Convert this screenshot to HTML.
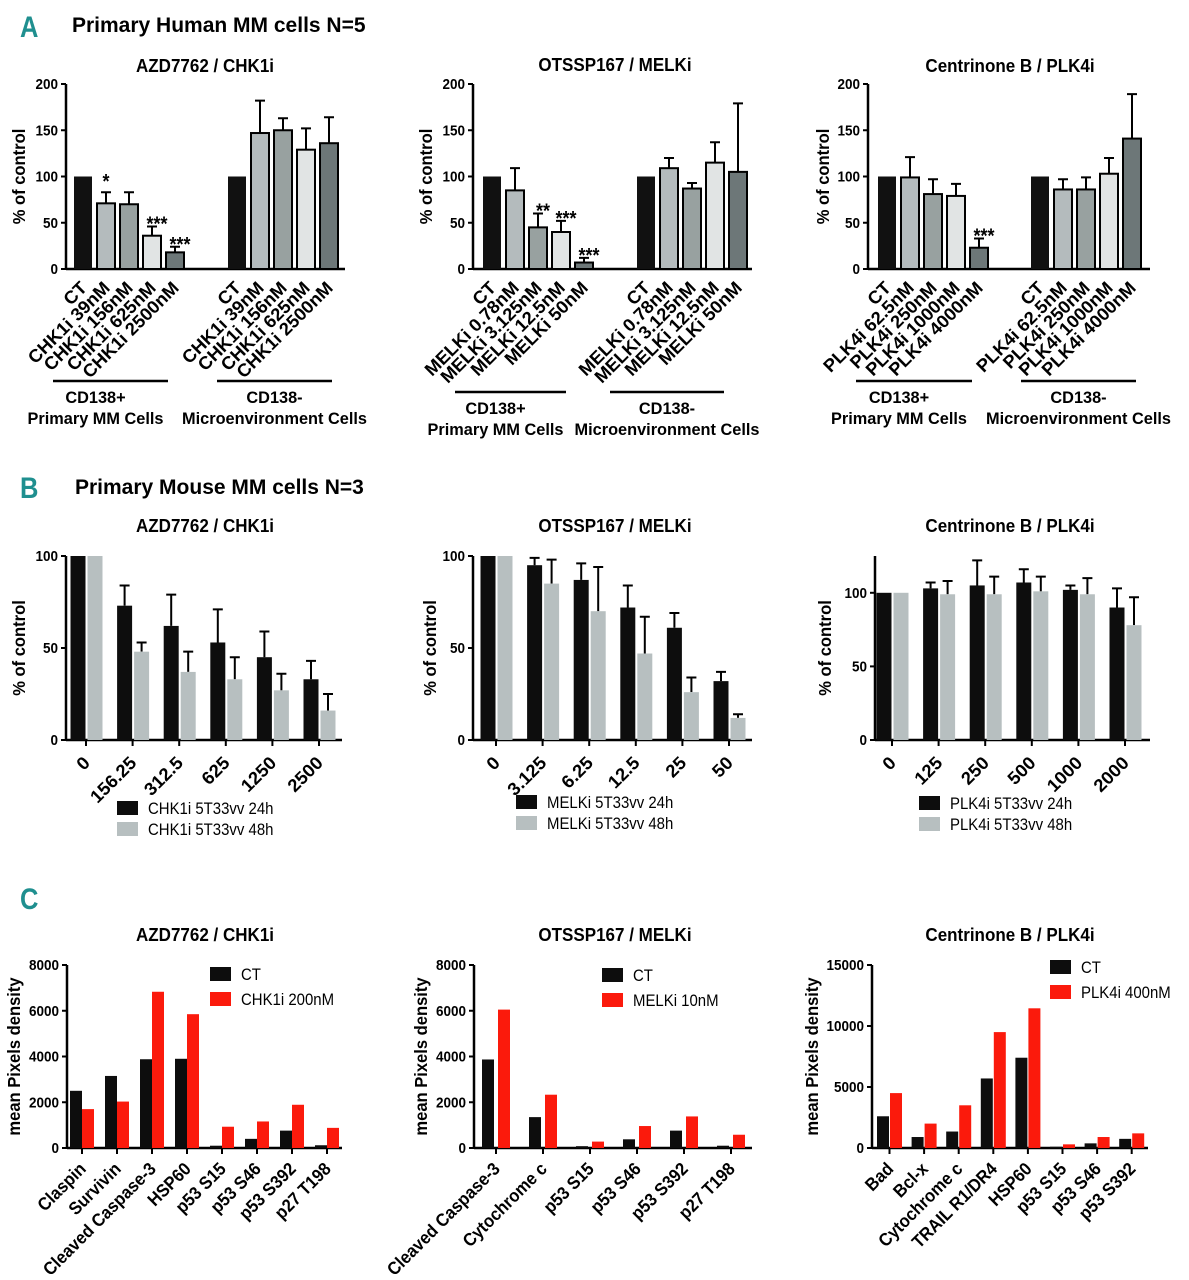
<!DOCTYPE html>
<html><head><meta charset="utf-8"><style>
html,body{margin:0;padding:0;background:#fff}
svg{display:block}
text{font-family:"Liberation Sans",Arial,sans-serif}
</style></head><body>
<svg id="fig" width="1189" height="1280" viewBox="0 0 1189 1280" xmlns="http://www.w3.org/2000/svg">
<g>
<text transform="translate(20 37) scale(0.85 1)" font-size="30" font-weight="bold" fill="#1f8f8f">A</text>
<text transform="translate(72 32) scale(1 1)" font-size="21" font-weight="bold">Primary Human MM cells N=5</text>
</g>
<g>
<text transform="translate(20 498) scale(0.85 1)" font-size="30" font-weight="bold" fill="#1f8f8f">B</text>
<text transform="translate(75 494) scale(1 1)" font-size="21" font-weight="bold">Primary Mouse MM cells N=3</text>
</g>
<g>
<text transform="translate(20 909) scale(0.85 1)" font-size="30" font-weight="bold" fill="#1f8f8f">C</text>
</g>
</svg>
<script>
// ---------- Panel A data ----------
const a1Labels = ["CT","CHK1i 39nM","CHK1i 156nM","CHK1i 625nM","CHK1i 2500nM"];
const a1Pos = [100,71,70,36,18];
const a1PosErr = [0,12,13,10,6];
const a1Neg = [100,147,150,129,136];
const a1NegErr = [0,35,13,23,28];
const a1Stars = ["","*","","***","***"];
const a2Labels = ["CT","MELKi 0.78nM","MELKi 3.125nM","MELKi 12.5nM","MELKi 50nM"];
const a2Pos = [100,85,45,40,7];
const a2PosErr = [0,24,15,12,5];
const a2Neg = [100,109,87,115,105];
const a2NegErr = [0,11,6,22,74];
const a2Stars = ["","","**","***","***"];
const a3Labels = ["CT","PLK4i 62.5nM","PLK4i 250nM","PLK4i 1000nM","PLK4i 4000nM"];
const a3Pos = [100,99,81,79,23];
const a3PosErr = [0,22,16,13,10];
const a3Neg = [100,86,86,103,141];
const a3NegErr = [0,11,13,17,48];
const a3Stars = ["","","","","***"];
const aTicks = [0,50,100,150,200];
// ---------- Panel B data ----------
const b1Cats = ["0","156.25","312.5","625","1250","2500"];
const b1H24 = [100,73,62,53,45,33];
const b1E24 = [0,11,17,18,14,10];
const b1H48 = [100,48,37,33,27,16];
const b1E48 = [0,5,11,12,9,9];
const b2Cats = ["0","3.125","6.25","12.5","25","50"];
const b2H24 = [100,95,87,72,61,32];
const b2E24 = [0,4,9,12,8,5];
const b2H48 = [100,85,70,47,26,12];
const b2E48 = [0,13,24,20,8,2];
const b3Cats = ["0","125","250","500","1000","2000"];
const b3H24 = [100,103,105,107,102,90];
const b3E24 = [0,4,17,9,3,13];
const b3H48 = [100,99,99,101,99,78];
const b3E48 = [0,9,12,10,11,19];
const bTicks = [0,50,100];
// ---------- Panel C data ----------
const c1Cats = ["Claspin","Survivin","Cleaved Caspase-3","HSP60","p53 S15","p53 S46","p53 S392","p27 T198"];
const c1CT = [2500,3150,3880,3900,100,400,760,120];
const c1Tx = [1700,2030,6830,5850,930,1160,1890,880];
const c2Cats = ["Cleaved Caspase-3","Cytochrome c","p53 S15","p53 S46","p53 S392","p27 T198"];
const c2CT = [3870,1350,80,380,760,100];
const c2Tx = [6050,2330,280,960,1380,580];
const c3Cats = ["Bad","Bcl-x","Cytochrome c","TRAIL R1/DR4","HSP60","p53 S15","p53 S46","p53 S392"];
const c3CT = [2600,900,1350,5700,7400,100,380,750];
const c3Tx = [4500,2000,3500,9500,11450,300,900,1200];
const c12Ticks = [0,2000,4000,6000,8000];
const c3Ticks = [0,5000,10000,15000];

const NS="http://www.w3.org/2000/svg";
const svg=document.getElementById('fig');
function mk(tag,attrs,parent,txt){const e=document.createElementNS(NS,tag);for(const k in attrs)e.setAttribute(k,attrs[k]);if(txt!==undefined)e.textContent=txt;(parent||svg).appendChild(e);return e;}
function txt(g,x,y,s,fs,anchor,sx,rot,bold){
  return mk('text',{transform:`translate(${x} ${y}) rotate(${rot||0}) scale(${sx} 1)`,'font-size':fs,'font-weight':bold===false?'normal':'bold','text-anchor':anchor},g,s);
}

function axes(g,o){
  const ys=v=>o.y0-(v/o.max)*(o.y0-o.yTop);
  const t=txt(g,o.titleX,o.titleY,o.title,18.5,'middle',0.92);
  
  
  const ax=mk('line',{x1:o.x0,y1:o.y0,x2:o.x1,y2:o.y0,stroke:'#000','stroke-width':2.5},g);
  
  
  const ay=mk('line',{x1:o.x0,y1:o.y0+1,x2:o.x0,y2:ys(o.topVal!==undefined?o.topVal:o.ticks[o.ticks.length-1]),stroke:'#000','stroke-width':2.5},g);
  
  
  o.ticks.forEach(v=>{
    const y=ys(v);
    mk('line',{x1:o.x0-5,y1:y,x2:o.x0,y2:y,stroke:'#000','stroke-width':2},g);
    const tl=txt(g,o.x0-8,y+5,String(v),15,'end',0.9);
    
    
  });
  const yt=txt(g,o.ytx,(o.y0+o.yTop)/2,o.ytitle,18,'middle',0.92,-90);
  
  
  return ys;
}
function catLabel(g,cx,y,s,fs,sx){
  const t=txt(g,cx+5,y,s,fs,'end',sx||1,-45);
  
  
}
function errBar(g,cx,yTop,yEnd){
  const e=mk('path',{d:`M${cx} ${yTop}V${yEnd}M${cx-5} ${yEnd}H${cx+5}`,stroke:'#000','stroke-width':2,fill:'none'},g);
  
  
}

const aColors=['#111','#b4bbbd','#98a1a0','#e1e4e4','#6d7778'];
function chartA(o,labels,pos,posErr,neg,negErr,stars){
  const g=mk('g',{});
  
  
  const ys=axes(g,Object.assign({max:200,ticks:aTicks,ytitle:'% of control'},o));
  const bw=18,step=23;
  [[pos,posErr,o.c1,'cd138-pos'],[neg,negErr,o.c2,'cd138-neg']].forEach(([vals,errs,c0,gn],gi)=>{
    vals.forEach((v,i)=>{
      const cx=c0+i*step, y=ys(v);
      if(errs[i]>0) errBar(g,cx,y,ys(v+errs[i]));
      const r=mk('rect',{x:cx-bw/2,y:y,width:bw,height:o.y0-y,fill:aColors[i],stroke:'#000','stroke-width':i?2:0},g);
      
      
      catLabel(g,cx,o.y0+20,labels[i],18,1.02);
      if(gi===0&&stars[i]){
        const s=txt(g,cx+(stars[i].length>1?5:0),ys(v+errs[i])+(stars[i].length>1?4:-4),stars[i],20,'middle',0.9);
        
        
      }
    });
  });
  [[o.l1,'CD138+','Primary MM Cells','group-pos',-15],[o.l2,'CD138-','Microenvironment Cells','group-neg',0]].forEach(([xs,t1,t2,n,off])=>{
    const l=mk('line',{x1:xs[0],y1:o.ly,x2:xs[1],y2:o.ly,stroke:'#000','stroke-width':2.5},g);
    
    
    const cx=(xs[0]+xs[1])/2+off;
    const a=txt(g,cx,o.ly+22,t1,17,'middle',0.96);
    
    
    const b=txt(g,cx,o.ly+43,t2,17,'middle',0.96);
    
    
  });
}
chartA({name:'chart-a-chk1i',x0:66,x1:345,y0:269,yTop:84,title:'AZD7762 / CHK1i',titleX:205,titleY:72,ytx:25,c1:83,c2:237,ly:381,l1:[53,168],l2:[217,332]},a1Labels,a1Pos,a1PosErr,a1Neg,a1NegErr,a1Stars);
chartA({name:'chart-a-melki',x0:473,x1:752,y0:269,yTop:84,title:'OTSSP167 / MELKi',titleX:615,titleY:71,ytx:432,c1:492,c2:646,ly:392,l1:[455,566],l2:[610,724]},a2Labels,a2Pos,a2PosErr,a2Neg,a2NegErr,a2Stars);
chartA({name:'chart-a-plk4i',x0:868,x1:1150,y0:269,yTop:84,title:'Centrinone B / PLK4i',titleX:1010,titleY:72,ytx:829,c1:887,c2:1040,ly:381,l1:[856,972],l2:[1021,1136]},a3Labels,a3Pos,a3PosErr,a3Neg,a3NegErr,a3Stars);

function legend(g,x,y,items,gap){
  items.forEach(([col,s],i)=>{
    const r=mk('rect',{x:x,y:y+i*gap-12,width:21,height:14,fill:col},g);
    
    
    const t=txt(g,x+31,y+i*gap+1,s,17,'start',0.88,0,false);
    
    
  });
}
function chartB(o,cats,h24,e24,h48,e48){
  const g=mk('g',{});
  
  
  const ys=axes(g,Object.assign({max:o.max||100,ticks:bTicks,ytitle:'% of control'},o));
  const bw=15,step=46.6;
  cats.forEach((c,i)=>{
    const cx=o.c0+i*step;
    [[h24,e24,0,'#0d0d0d','24h'],[h48,e48,17,'#b7bfc0','48h']].forEach(([vals,errs,off,col,n])=>{
      const y=ys(vals[i]);
      if(errs[i]>0) errBar(g,cx+off,y,ys(vals[i]+errs[i]));
      const r=mk('rect',{x:cx+off-bw/2,y:y,width:bw,height:o.y0-y,fill:col},g);
      
      
    });
    mk('line',{x1:cx+8,y1:o.y0,x2:cx+8,y2:o.y0+6,stroke:'#000','stroke-width':2},g);
    catLabel(g,cx+8,o.y0+24,c,18,1.03);
  });
  legend(g,o.lx,o.ly,[['#0d0d0d',o.leg[0]],['#b7bfc0',o.leg[1]]],21);
}
chartB({name:'chart-b-chk1i',x0:66,x1:342,y0:740,yTop:556,title:'AZD7762 / CHK1i',titleX:205,titleY:532,ytx:25,c0:78,lx:117,ly:813,leg:['CHK1i 5T33vv 24h','CHK1i 5T33vv 48h']},b1Cats,b1H24,b1E24,b1H48,b1E48);
chartB({name:'chart-b-melki',x0:473,x1:752,y0:740,yTop:556,title:'OTSSP167 / MELKi',titleX:615,titleY:532,ytx:436,c0:488,lx:516,ly:807,leg:['MELKi 5T33vv 24h','MELKi 5T33vv 48h']},b2Cats,b2H24,b2E24,b2H48,b2E48);
chartB({name:'chart-b-plk4i',x0:875,x1:1150,y0:740,yTop:556,max:125,topVal:125,title:'Centrinone B / PLK4i',titleX:1010,titleY:532,ytx:831,c0:884,lx:919,ly:808,leg:['PLK4i 5T33vv 24h','PLK4i 5T33vv 48h']},b3Cats,b3H24,b3E24,b3H48,b3E48);

function chartC(o,cats,ct,tx){
  const g=mk('g',{});
  
  
  const ys=axes(g,Object.assign({ytitle:'mean Pixels density'},o));
  const bw=12;
  cats.forEach((c,i)=>{
    const cx=o.c0+i*o.step;
    [[ct,0,'#0d0d0d','ct'],[tx,o.off,'#fb1a0c','treated']].forEach(([vals,off,col,n])=>{
      const y=ys(vals[i]);
      const r=mk('rect',{x:cx+off-bw/2,y:y,width:bw,height:o.y0-y,fill:col},g);
      
      
    });
    mk('line',{x1:cx+o.off/2,y1:o.y0,x2:cx+o.off/2,y2:o.y0+6,stroke:'#000','stroke-width':2},g);
    catLabel(g,cx+o.off/2,o.y0+22,c,18,0.92);
  });
  legend(g,o.lx,o.ly,[['#0d0d0d','CT'],['#fb1a0c',o.leg]],25);
}
chartC({name:'chart-c-chk1i',x0:67,x1:342,y0:1148,yTop:965,max:8000,ticks:c12Ticks,title:'AZD7762 / CHK1i',titleX:205,titleY:941,ytx:20,c0:76,step:35,off:12,lx:210,ly:979,leg:'CHK1i 200nM'},c1Cats,c1CT,c1Tx);
chartC({name:'chart-c-melki',x0:474,x1:752,y0:1148,yTop:965,max:8000,ticks:c12Ticks,title:'OTSSP167 / MELKi',titleX:615,titleY:941,ytx:427,c0:488,step:47,off:16,lx:602,ly:980,leg:'MELKi 10nM'},c2Cats,c2CT,c2Tx);
chartC({name:'chart-c-plk4i',x0:872,x1:1148,y0:1148,yTop:965,max:15000,ticks:c3Ticks,title:'Centrinone B / PLK4i',titleX:1010,titleY:941,ytx:818,c0:883,step:34.6,off:13,lx:1050,ly:972,leg:'PLK4i 400nM'},c3Cats,c3CT,c3Tx);
</script>
</body></html>
